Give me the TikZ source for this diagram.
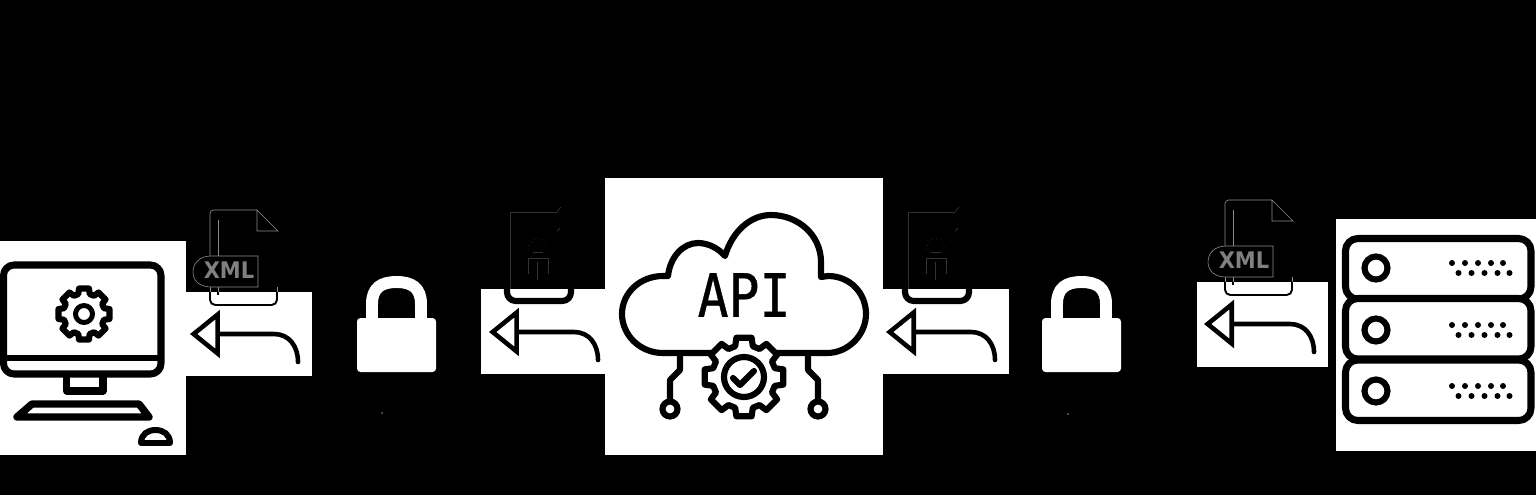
\documentclass[tikz,border=0pt]{standalone}
\usepackage{fontspec}
\usepackage{xcolor}
\usetikzlibrary{arrows.meta}
\newfontfamily\apifont[FakeStretch=0.86,FakeBold=0.7]{DejaVu Sans Mono}
\newfontfamily\xmlfont[FakeStretch=0.92]{DejaVu Sans Bold}
\colorlet{halogray}{black!45!white}
\colorlet{xmlgray}{black!50!white}
\colorlet{ghostgray}{black!80!white}
\tikzset{
    panel/.style={fill=white},
    iconline/.style={draw=black, line width=3.5pt, line join=round, line cap=round},
    halo/.style={draw=halogray, line width=0.35pt},
    ghost/.style={draw=ghostgray, line width=0.4pt},
    xmllabel/.style={inner sep=0pt, text=xmlgray, font=\xmlfont\fontsize{13}{13}\selectfont},
    flowarrow/.style={draw=black, line width=2.6pt, line cap=round, -{Triangle[open, fill=white, length=0.6cm, width=0.95cm]}},
    rackbox/.style={iconline, line width=4pt, fill=white, rounded corners=7pt},
    gearicon/.pic={
        \draw[iconline, fill=white] (-16:0.8) \foreach \a in {0,45,...,315} {
            -- ({\a-16}:0.8) -- ({\a-11}:1) -- ({\a+11}:1) -- ({\a+16}:0.8)
        } -- cycle;
    },
    lockicon/.pic={
        \fill[white, rounded corners=2pt] (0,0) rectangle (79,54);
        \draw[white, line width=6.8pt] (15,2) -- (15,-14) .. controls (15,-30) and (24,-36) .. (39.5,-36) .. controls (55,-36) and (64,-30) .. (64,-14) -- (64,2);
    },
    xmlfile/.pic={
        \draw[halo, rounded corners=2pt] (0,46) -- (0,0) -- (47,0);
        \draw[halo] (47,0) -- (68,21) -- (47,21) -- cycle;
        \draw[halo] (8,10) -- (8,46);
        \draw[halo] (48,46) -- (1,46) .. controls (-10,46) and (-17,53) .. (-17,62) .. controls (-17,71) and (-10,77) .. (1,77) -- (48,77) -- cycle;
        \draw[halo] (0,77) -- (0,82);
        \draw[halo] (67,77) -- (67,82);
        \draw[halo] (8,77) -- (8,82);
        \draw[draw=black, line width=1.1pt, rounded corners=3pt] (0,82) -- (0,95) -- (67,95) -- (67,82);
        \draw[draw=black, line width=1pt] (8,82) -- (8,85);
    },
    lockeddoc/.pic={
        \draw[ghost] (0,77) -- (0,0) -- (47,0);
        \draw[ghost] (47,0) -- (51,-5);
        \draw[ghost] (47,19) -- (50,16);
        \draw[ghost, dotted] (18,38) .. controls (20,30) and (24,26) .. (28,26) .. controls (32,26) and (36,30) .. (38,38);
        \draw[ghost] (23,40) -- (33,40);
        \draw[ghost] (18,62) -- (18,46) -- (38,46) -- (38,62);
        \draw[ghost] (27,50) -- (27,68);
        \draw[iconline, rounded corners=5pt, line cap=butt] (-3,70) -- (-3,89) -- (61,89) -- (61,70);
    }
}
\begin{document}
\begin{tikzpicture}[x=0.02cm, y=-0.02cm]
    \useasboundingbox (0,0) rectangle (1536,495);
    \fill[black] (0,0) rectangle (1536,495);

    \fill[panel] (0,241) rectangle (186,455);
    \fill[panel] (186,292) rectangle (312,376);
    \fill[panel] (481,289) rectangle (605,374);
    \fill[panel] (605,178) rectangle (883,455);
    \fill[panel] (883,289) rectangle (1009,374);
    \fill[panel] (1197,282) rectangle (1328,367);
    \fill[panel] (1336,219) rectangle (1536,451);

    \draw[iconline, line width=4pt, rounded corners=6pt] (3.5,265) rectangle (161,374);
    \draw[iconline] (3.5,358) -- (161,358);
    \draw[iconline, line width=4pt] (66.5,378) -- (66.5,391) -- (103,391) -- (103,378);
    \draw[iconline, line width=4.2pt] (32,404) -- (139,404) -- (149,417) -- (17,417) -- cycle;
    \draw[iconline, line width=3.4pt] (141,443) .. controls (141,434) and (148,430) .. (155.5,430) .. controls (163,430) and (170,434) .. (170,443) -- cycle;
    \pic[line width=2.8pt, scale=26] at (84,314) {gearicon};
    \draw[iconline, line width=2.8pt] (84,314) circle (8.5);

    \pic at (210,210) {xmlfile};
    \node[xmllabel] (xmlleft) at (229,270) {XML};
    \pic at (1225,200) {xmlfile};
    \node[xmllabel] (xmlright) at (1244,260) {XML};
    \pic at (510,212) {lockeddoc};
    \pic at (908,212) {lockeddoc};
    \pic at (357,318) {lockicon};
    \pic at (1042,318) {lockicon};
    \fill[halogray] (382,413) circle (0.8);
    \fill[halogray] (1068,414) circle (0.8);

    \draw[iconline, fill=white] (663,353) .. controls (640,353) and (622,335) .. (622,314) .. controls (622,293) and (640,276) .. (663,276) -- (668,276) .. controls (670,257) and (683,243) .. (698,243) .. controls (708,243) and (718,248) .. (725,256) .. controls (732,232) and (750,215) .. (771,215) .. controls (798,215) and (821,235) .. (821,262) -- (821,277) -- (828,276) .. controls (850,276) and (866,293) .. (866,314) .. controls (866,335) and (848,353) .. (827,353) -- cycle;
    \node[inner sep=0pt, font=\apifont\fontsize{34}{34}\selectfont] (apilabel) at (744,295) {API};
    \draw[iconline] (680,355) -- (680,370) -- (670,380) -- (670,401);
    \draw[iconline] (808,355) -- (808,370) -- (818,380) -- (818,401);
    \draw[iconline, fill=white] (670,409) circle (7.5);
    \draw[iconline, fill=white] (818,409) circle (7.5);
    \pic at (744,377) [scale=40] {gearicon};
    \draw[iconline] (744,377) circle (20);
    \draw[iconline] (733,378) -- (740,385) -- (754,371);

    \foreach \y in {238.5,298.5,360} {
        \draw[rackbox] (1345.5,\y) rectangle (1531,\y+60.5);
    }
    \foreach \y in {268,330,391} {
        \draw[iconline] (1376,\y) circle (11.5);
        \foreach \x in {1452,1465,1478,1491,1503} {
            \fill[black] (\x,\y-5) circle (3);
            \fill[black] (\x+6.5,\y+5) circle (3);
        }
    }

    \coordinate (leftstart) at (298,362);
    \coordinate (lefttip) at (190,334);
    \coordinate (midstart) at (598,360);
    \coordinate (midtip) at (489,332);
    \coordinate (apistart) at (995,360);
    \coordinate (apitip) at (886,332);
    \coordinate (rightstart) at (1314,352);
    \coordinate (righttip) at (1204,324);
    \draw[flowarrow] (leftstart) .. controls (298,346) and (289,334) .. (274,334) -- (lefttip);
    \draw[flowarrow] (midstart) .. controls (598,344) and (589,332) .. (574,332) -- (midtip);
    \draw[flowarrow] (apistart) .. controls (995,344) and (986,332) .. (971,332) -- (apitip);
    \draw[flowarrow] (rightstart) .. controls (1314,336) and (1305,324) .. (1290,324) -- (righttip);
\end{tikzpicture}
\end{document}
